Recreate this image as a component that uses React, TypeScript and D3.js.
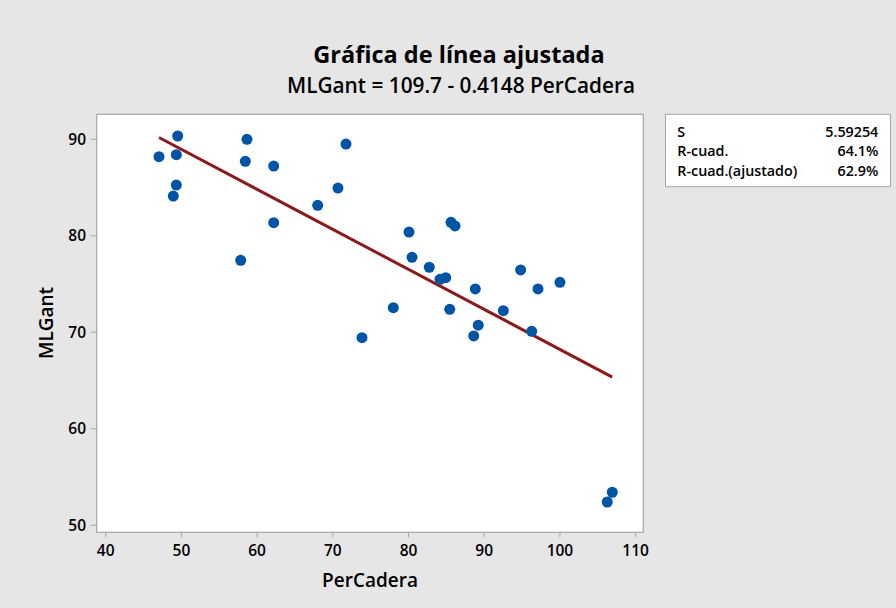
import React from "react";
import * as d3 from "d3";

const perCadera = [47.04, 49.51, 49.33, 49.33, 48.93, 58.66, 58.44, 62.19, 71.74, 70.68, 68.0, 62.19, 57.83, 77.99, 73.85,
  80.06, 80.46, 82.74, 84.16, 84.91, 88.82, 94.81, 97.10, 100.0, 85.44, 92.52, 89.21, 88.61, 96.27, 85.61, 86.14, 106.91, 106.25];
const mlGant = [88.2, 90.34, 88.4, 85.26, 84.12, 90.0, 87.72, 87.23, 89.51, 84.95, 83.16, 81.36, 77.46, 72.55, 69.44,
  80.39, 77.77, 76.74, 75.49, 75.66, 74.49, 76.46, 74.49, 75.18, 72.38, 72.24, 70.73, 69.62, 70.1, 81.4, 81.02, 53.42, 52.41];
const xTicks = [40, 50, 60, 70, 80, 90, 100, 110];
const yTicks = [50, 60, 70, 80, 90];
const intercept = 109.7;
const slope = -0.4148;
const statLabels = ["S", "R-cuad.", "R-cuad.(ajustado)"];
const statValues = ["5.59254", "64.1%", "62.9%"];

const FONT = "'Open Sans', 'Noto Sans', sans-serif";

export default function App() {
  const W = 896, H = 608;
  const pl = 96.7, pr = 643.3, pt = 114.3, pb = 532.3;
  const x = d3.scaleLinear().domain([38.81, 111.01]).range([pl, pr]);
  const y = d3.scaleLinear().domain([49.27, 92.59]).range([pb, pt]);
  const xMin = d3.min(perCadera)!, xMax = d3.max(perCadera)!;
  const lineGen = d3.line<number>().x(d => x(d)).y(d => y(intercept + slope * d));
  return (
    <svg width={W} height={H} style={{ position: "absolute", left: 0, top: 0 }} fontFamily={FONT}>
      <rect x={0} y={0} width={W} height={H} fill="#E6E6E6" />
      <text x={459} y={63} textAnchor="middle" fontSize={23.5} fontWeight={700} fill="#000">Gráfica de línea ajustada</text>
      <text x={461} y={93} textAnchor="middle" fontSize={20.8} fontWeight={600} fill="#000">MLGant = 109.7 - 0.4148 PerCadera</text>
      <rect x={pl} y={pt} width={pr - pl} height={pb - pt} fill="#fff" stroke="#A6A6A6" strokeWidth={1.2} />
      {xTicks.map(t => (
        <g key={"x" + t}>
          <line x1={x(t)} x2={x(t)} y1={pb} y2={pb + 5} stroke="#A6A6A6" strokeWidth={1} />
          <text x={x(t)} y={556} textAnchor="middle" fontSize={15.5} fontWeight={600} fill="#000">{t}</text>
        </g>
      ))}
      {yTicks.map(t => (
        <g key={"y" + t}>
          <line x1={pl - 6} x2={pl} y1={y(t)} y2={y(t)} stroke="#A6A6A6" strokeWidth={1} />
          <text x={86} y={y(t) + 5.5} textAnchor="end" fontSize={15.5} fontWeight={600} fill="#000">{t}</text>
        </g>
      ))}
      <text x={370} y={587} textAnchor="middle" fontSize={19} fontWeight={600} fill="#000">PerCadera</text>
      <text transform={`translate(53,323) rotate(-90)`} textAnchor="middle" fontSize={19} fontWeight={600} fill="#000">MLGant</text>
      <path d={lineGen([xMin, xMax]) || ""} stroke="#8B1A1A" strokeWidth={3} fill="none" />
      {perCadera.map((v, i) => (
        <circle key={i} cx={x(v)} cy={y(mlGant[i])} r={5.5} fill="#0054A6" />
      ))}
      <rect x={665.5} y={114.3} width={225} height={72.4} fill="#fff" stroke="#A6A6A6" strokeWidth={1} />
      {statLabels.map((s, i) => (
        <g key={s}>
          <text x={677.3} y={137 + i * 19.3} fontSize={14.3} fontWeight={600} fill="#000">{s}</text>
          <text x={878.3} y={137 + i * 19.3} textAnchor="end" fontSize={14.3} fontWeight={600} fill="#000">{statValues[i]}</text>
        </g>
      ))}
    </svg>
  );
}
